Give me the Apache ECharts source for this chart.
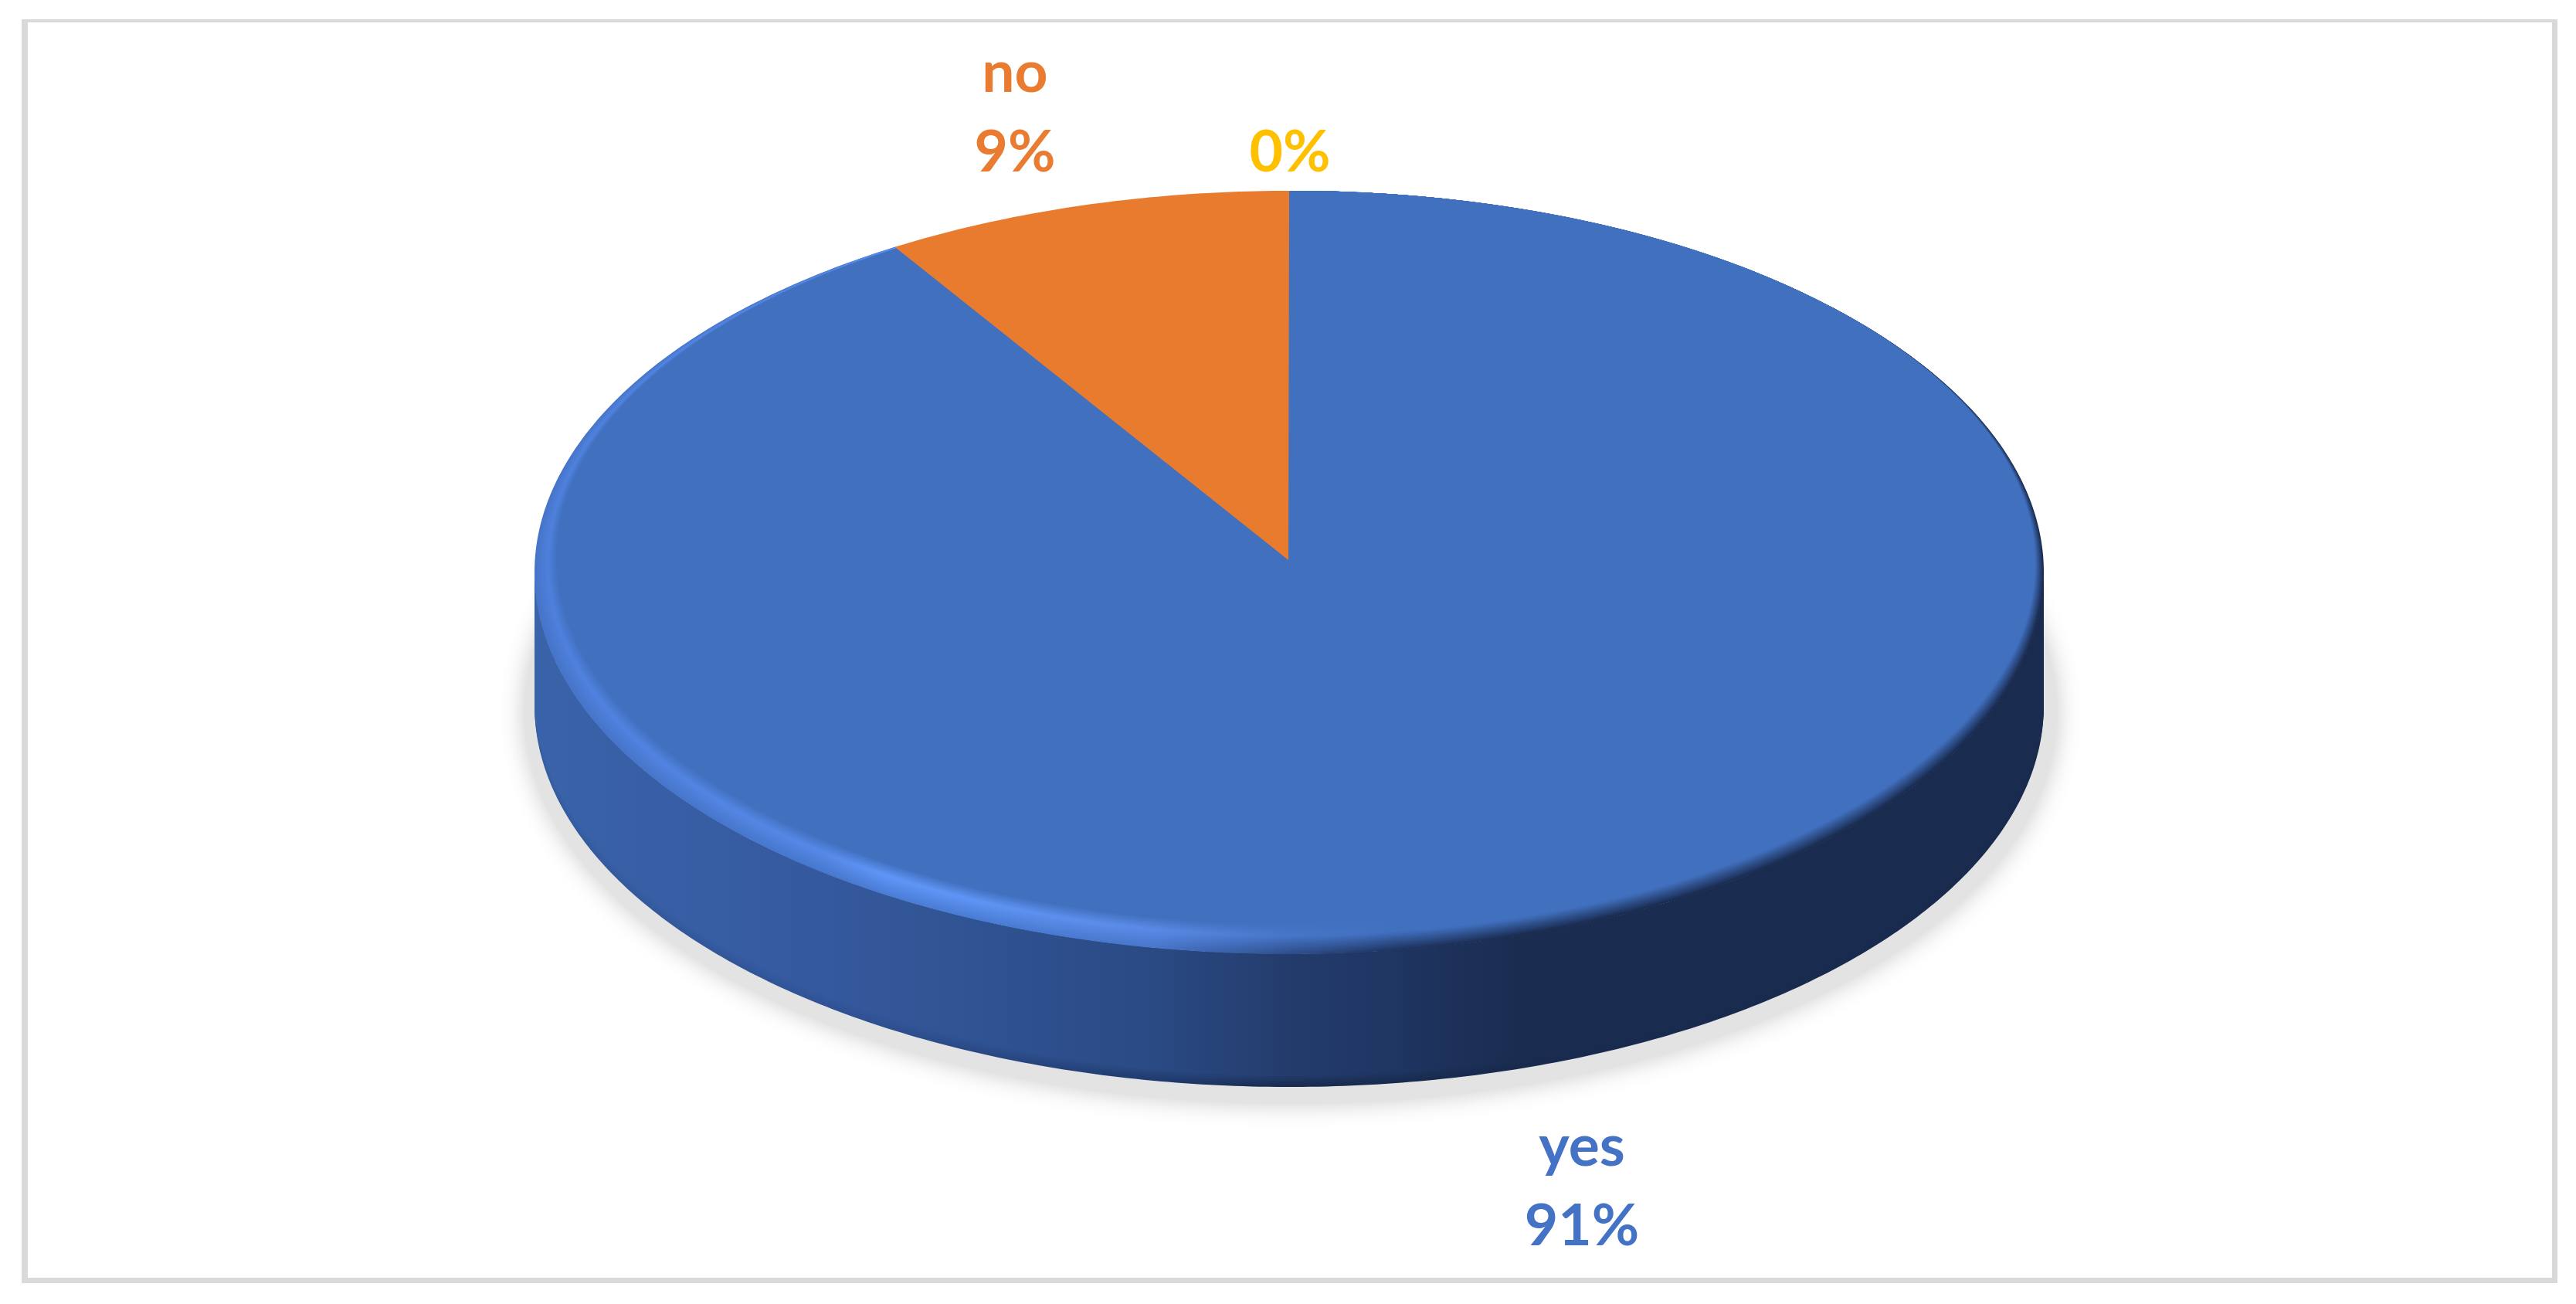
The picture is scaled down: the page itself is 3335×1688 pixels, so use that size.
<!DOCTYPE html>
<html>
<head>
<meta charset="utf-8">
<title>pie</title>
<script src="https://cdn.jsdelivr.net/npm/echarts@6/dist/echarts.min.js"></script>
<style>
html, body { margin: 0; padding: 0; background: #fff; }
#main { width: 3335px; height: 1688px; }
</style>
</head>
<body>
<div id="main"></div>
<script>
var categories = ['yes', 'no', ''];
var values = [91.25, 8.75, 0];

var sliceColors = ['#4170bf', '#e97b2f', '#ffc000'];
var labelColors = ['#4472c4', '#e97c30', '#ffc000'];
// 每个标签中心x和最后一行底部y
var labelPos = [[2048, 1639], [1314, 249], [1670, 249]];

// 椭圆饼图的几何尺寸
var cx = 1669, cy = 741, rx = 977, ry = 494, depth = 172;
var apexX = 1668, apexY = 725;
var innerCx = 1674, innerCy = 722, innerRx = 954, innerRy = 475;
var bevelSteps = 16;

// 侧面和高光的水平渐变
var stopX = [0, 0.19, 0.23, 0.30, 0.41, 0.50, 0.57, 0.65, 1];
var sideStops = ['#3a63aa', '#35599f', '#345799', '#2f5292', '#2a4a84', '#233c6c', '#1f3562', '#1a2c50', '#192b4e'];
var rimStops = ['#4d80dc', '#5689e8', '#6096f8', '#5f94f4', '#5a8ae6', '#4676c8', '#4170bf', '#4170bf', '#4170bf'];
var edgeStops = ['#4674c8', '#4878ce', '#4b7dd6', '#4a7cd4', '#4877cc', '#2f4f8c', '#1f3562', '#1a2c50', '#192b4e'];
var darkStops = ['#355c9f', '#305295', '#2e4f8f', '#294883', '#1f3a6c', '#182a4d', '#182a4d', '#182a4d', '#182a4d'];

var total = values.reduce(function (a, b) { return a + b; }, 0);

function hGradient(colors) {
	var stops = stopX.map(function (x, i) {
		return { offset: x, color: colors[i] };
	});
	return new echarts.graphic.LinearGradient(cx - rx, 0, cx + rx, 0, stops, true);
}

function mixStops(a, b, t) {
	return a.map(function (c, i) {
		return echarts.color.lerp(t, [c, b[i]]);
	});
}

function arcPoints(t0, t1, ecx, ecy, erx, ery, out) {
	var n = Math.max(2, Math.ceil((t1 - t0) * 90));
	for (var i = 0; i <= n; i++) {
		var t = t0 + (t1 - t0) * i / n;
		out.push([ecx + erx * Math.sin(t), ecy - ery * Math.cos(t)]);
	}
	return out;
}

function sidePolygon(t0, t1, d, fill) {
	var pts = arcPoints(t0, t1, cx, cy, rx, ry, []);
	var low = arcPoints(t0, t1, cx, cy + d, rx, ry, []).reverse();
	return { type: 'polygon', shape: { points: pts.concat(low) }, style: { fill: fill } };
}

function renderSlice(params, api) {
	var idx = params.dataIndex;
	var val = api.value(0);
	if (!val) {
		return { type: 'group', children: [labelEl(idx, val)] };
	}
	var before = 0;
	for (var i = 0; i < idx; i++) {
		before += values[i];
	}
	var t0 = before / total * Math.PI * 2;
	var t1 = (before + val) / total * Math.PI * 2;
	var children = [];

	// 只有前面的下半圈能看到侧面
	var s0 = Math.max(t0, Math.PI / 2), s1 = Math.min(t1, Math.PI * 1.5);
	if (s1 > s0) {
		children.push(sidePolygon(s0, s1, depth, hGradient(darkStops)));
		for (var d = 0; d < 5; d++) {
			children.push(sidePolygon(s0, s1, depth - 2 - d * 3, hGradient(mixStops(sideStops, darkStops, 0.8 - d * 0.2))));
		}
	}

	if (idx === 0) {
		// 斜面高光，一层层往里缩
		var flat = sideStops.map(function () { return sliceColors[0]; });
		for (var k = 0; k <= bevelSteps; k++) {
			var f = k / bevelSteps;
			var colors = f < 0.6
				? mixStops(edgeStops, rimStops, f / 0.6)
				: mixStops(rimStops, flat, (f - 0.6) / 0.4);
			var start = [[apexX, apexY], [apexX + 1, cy - ry]];
			var layer = arcPoints(t0, t1,
				cx + (innerCx - cx) * f, cy + (innerCy - cy) * f,
				rx + (innerRx - rx) * f, ry + (innerRy - ry) * f, start);
			children.push({ type: 'polygon', shape: { points: layer }, style: { fill: hGradient(colors) } });
		}
	} else {
		children.push({
			type: 'polygon',
			shape: { points: arcPoints(t0, t1, cx, cy, rx, ry, [[apexX, apexY]]) },
			style: { fill: sliceColors[idx] }
		});
	}
	children.push(labelEl(idx, val));
	return { type: 'group', children: children };
}

function labelEl(idx, val) {
	var pct = Math.round(val / total * 100) + '%';
	var name = categories[idx];
	return {
		type: 'text',
		x: labelPos[idx][0],
		y: labelPos[idx][1],
		style: {
			text: name ? name + '\n' + pct : pct,
			fill: labelColors[idx],
			font: 'bold 75px Lato',
			lineHeight: 103,
			align: 'center',
			verticalAlign: 'bottom'
		}
	};
}

var myChart = echarts.init(document.getElementById('main'));
myChart.setOption({
	animation: false,
	backgroundColor: '#ffffff',
	graphic: [
		{ type: 'rect', shape: { x: 28, y: 25, width: 8, height: 1636 }, style: { fill: '#d9d9d9' } },
		{ type: 'rect', shape: { x: 3304, y: 25, width: 7, height: 1636 }, style: { fill: '#d9d9d9' } },
		{ type: 'rect', shape: { x: 28, y: 25, width: 3283, height: 4 }, style: { fill: '#d9d9d9' } },
		{ type: 'rect', shape: { x: 28, y: 1654, width: 3283, height: 7 }, style: { fill: '#d9d9d9' } },
		// 饼图底部的投影
		{
			type: 'ellipse',
			shape: { cx: 1671, cy: 922, rx: 992, ry: 506 },
			style: { fill: '#e3e3e3', shadowBlur: 32, shadowColor: '#c7c7c7' }
		}
	],
	series: [{
		type: 'custom',
		coordinateSystem: 'none',
		z: 5,
		silent: true,
		clip: false,
		data: values.map(function (v) { return [v]; }),
		renderItem: renderSlice
	}]
});
</script>
</body>
</html>
